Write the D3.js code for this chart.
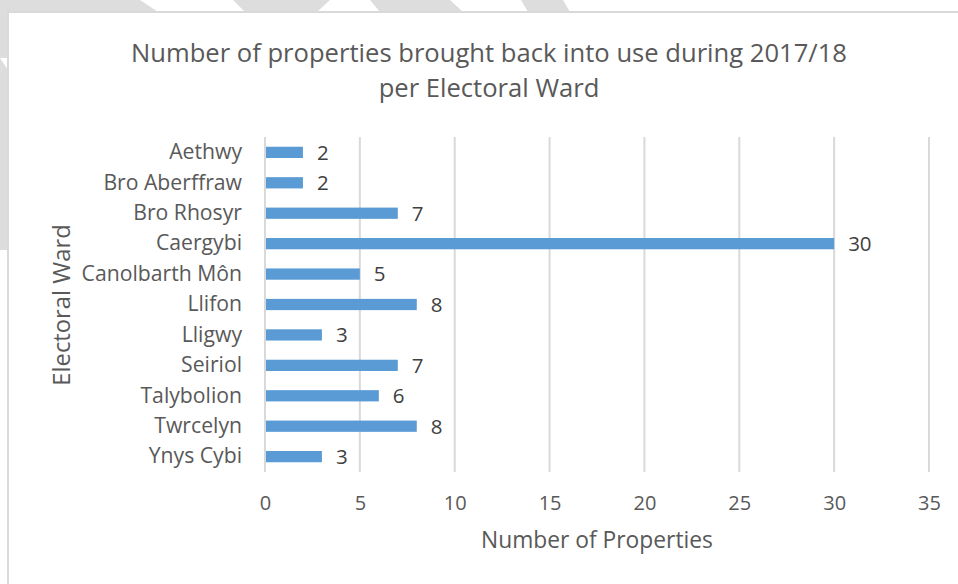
<!DOCTYPE html>
<html lang="en">
<head>
  <meta charset="UTF-8" />
  <title>Properties brought back into use 2017/18</title>
  <script src="https://d3js.org/d3.v7.min.js"></script>
  <style>
    body { margin: 0; background: #fff; }
    svg { display: block; }
    svg text { font-family: "Open Sans", Arial, sans-serif; }
    .tick text { fill: #595959; }
  </style>
</head>
<body>

<svg width="958" height="584"></svg>

<script>
  // data
  const wards = ["Aethwy", "Bro Aberffraw", "Bro Rhosyr", "Caergybi", "Canolbarth Môn",
                 "Llifon", "Lligwy", "Seiriol", "Talybolion", "Twrcelyn", "Ynys Cybi"];
  const properties = [2, 2, 7, 30, 5, 8, 3, 7, 6, 8, 3];
  const xTicks = [0, 5, 10, 15, 20, 25, 30, 35];
  const titleLines = ["Number of properties brought back into use during 2017/18", "per Electoral Ward"];

  const data = wards.map((w, i) => ({ ward: w, value: properties[i] }));

  const svg = d3.select("svg");
  const margin = { left: 265, right: 29, top: 137, bottom: 112 };
  const width = 958, height = 584;

  // watermark bits peeking out round the chart frame
  const wm = svg.append("g").attr("fill", "#dddddd");
  [
    [[0,0],[140,0],[158,12],[0,12]],
    [[233,0],[330,0],[317,12],[245,12]],
    [[370,0],[450,0],[463,12],[380,12]],
    [[521,0],[563,0],[570,12],[528,12]],
    [[0,0],[8,0],[8,58],[0,58]],
    [[0,58],[8,70],[8,250],[0,250],[0,80]]
  ].forEach(p => wm.append("path").attr("d", d3.line()(p) + "Z"));

  // chart frame
  svg.append("rect").attr("x", 8).attr("y", 12).attr("width", 960).attr("height", 600)
    .attr("fill", "#fff").attr("stroke", "#d9d9d9").attr("stroke-width", 2);

  const x = d3.scaleLinear()
    .domain([0, 35])
    .range([margin.left, width - margin.right]);

  const y = d3.scaleBand()
    .domain(wards)
    .range([margin.top, height - margin.bottom])
    .paddingInner(0.63)
    .paddingOuter(0.32);

  // gridlines
  svg.append("g")
    .selectAll("line")
    .data(xTicks)
    .join("line")
    .attr("x1", d => x(d)).attr("x2", d => x(d))
    .attr("y1", margin.top).attr("y2", height - margin.bottom)
    .attr("stroke", "#d9d9d9")
    .attr("stroke-width", 2);

  // x axis labels
  const xAxis = svg.append("g")
    .attr("transform", `translate(0,${height - margin.bottom})`)
    .call(d3.axisBottom(x).tickValues(xTicks).tickSize(0).tickPadding(24));
  xAxis.attr("font-family", null).attr("font-size", null);
  xAxis.select(".domain").remove();
  xAxis.selectAll("text").style("font-size", "20px");

  // y axis labels
  const yAxis = svg.append("g")
    .attr("transform", `translate(${margin.left},0)`)
    .call(d3.axisLeft(y).tickSize(0).tickPadding(23));
  yAxis.attr("font-family", null).attr("font-size", null);
  yAxis.select(".domain").remove();
  yAxis.selectAll("text").style("font-size", "21.2px");

  // bars
  svg.append("g")
    .selectAll("rect")
    .data(data)
    .join("rect")
    .attr("x", x(0) + 1)
    .attr("y", d => y(d.ward))
    .attr("width", d => x(d.value) - x(0) - 1)
    .attr("height", y.bandwidth())
    .attr("fill", "#5b9bd5");

  // value labels
  svg.append("g")
    .selectAll("text")
    .data(data)
    .join("text")
    .attr("x", d => x(d.value) + 14)
    .attr("y", d => y(d.ward) + y.bandwidth() / 2)
    .attr("dy", "0.36em")
    .attr("fill", "#404040")
    .style("font-size", "20.5px")
    .text(d => d.value);

  // title
  svg.append("g")
    .selectAll("text")
    .data(titleLines)
    .join("text")
    .attr("x", 489)
    .attr("y", (d, i) => 62 + i * 35)
    .attr("text-anchor", "middle")
    .attr("fill", "#595959")
    .style("font-size", "25.6px")
    .text(d => d);

  // axis titles
  svg.append("text")
    .attr("x", 597).attr("y", 548)
    .attr("text-anchor", "middle")
    .attr("fill", "#595959")
    .style("font-size", "22.8px")
    .text("Number of Properties");

  svg.append("text")
    .attr("transform", "translate(70,305) rotate(-90)")
    .attr("text-anchor", "middle")
    .attr("fill", "#595959")
    .style("font-size", "23.8px")
    .text("Electoral Ward");
</script>

</body>
</html>
